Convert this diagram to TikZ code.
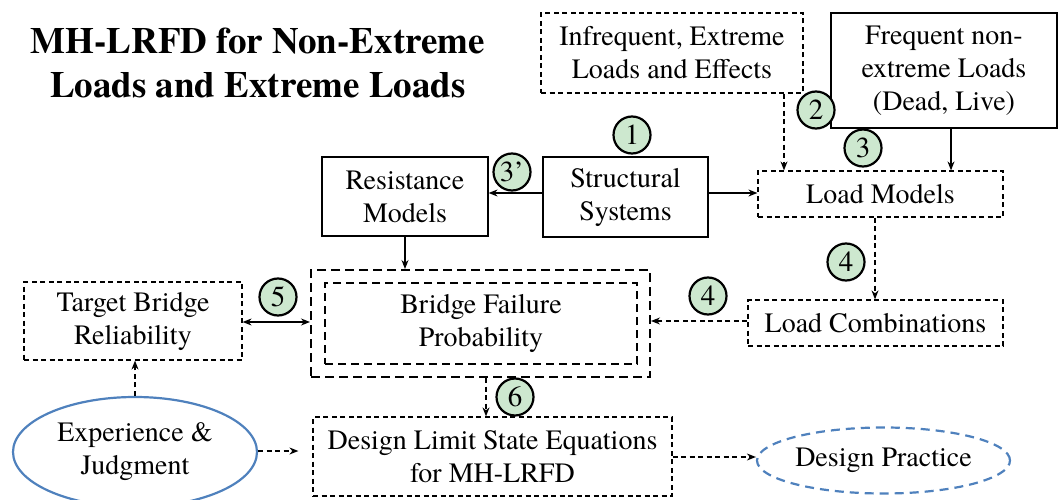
\documentclass[tikz,border=0pt]{standalone}
\usepackage{fontspec}
\setmainfont{texgyretermes}[Extension=.otf, UprightFont=*-regular, BoldFont=*-bold, ItalicFont=*-italic, BoldItalicFont=*-bolditalic]
\usetikzlibrary{arrows.meta,shapes.geometric}
\definecolor{numgreen}{HTML}{CDE8CF}
\definecolor{ellblue}{HTML}{4F81BD}
\tikzset{
  txt/.style={font=\fontsize{28}{33}\selectfont, align=center, inner sep=0pt},
  sbox/.style={txt, draw, line width=1.2pt},
  dbox/.style={txt, draw, line width=1.2pt, dash pattern=on 5pt off 3.5pt},
  obox/.style={draw, line width=2pt, dash pattern=on 9pt off 5pt, inner sep=0pt},
  num/.style={circle, draw, line width=2.2pt, fill=numgreen, minimum size=37pt, inner sep=0pt, font=\fontsize{29}{29}\selectfont},
  arr/.style={line width=1.2pt, -{Stealth[length=9pt,width=7pt]}},
  darr/.style={arr, dash pattern=on 5pt off 3.5pt},
}
\begin{document}
\begin{tikzpicture}[x=1pt,y=-1pt]
\useasboundingbox (0,0) rectangle (1058,500);
% title
\node[font=\bfseries\fontsize{37}{44}\selectfont, align=center, inner sep=0pt] (title) at (258,63) {MH-LRFD for Non-Extreme\\Loads and Extreme Loads};
% boxes
\node[dbox, minimum width=262pt, minimum height=80pt] (inf) at (672,53) {Infrequent, Extreme\\Loads and Effects};
\node[sbox, minimum width=226pt, minimum height=115pt] (freq) at (944,70.5) {Frequent non-\\extreme Loads\\(Dead, Live)};
\node[sbox, minimum width=166pt, minimum height=79pt] (res) at (405,196.5) {Resistance\\Models};
\node[sbox, minimum width=165pt, minimum height=80pt] (str) at (625.5,197) {Structural\\Systems};
\node[dbox, minimum width=245pt, minimum height=46pt] (lm) at (880.5,194) {Load Models};
\node[obox, minimum width=339pt, minimum height=107pt] (outer) at (480.5,323.5) {};
\node[dbox, line width=1.7pt, dash pattern=on 8pt off 5pt, minimum width=312pt, minimum height=81pt] (inner) at (481,323.5) {Bridge Failure\\Probability};
\node[dbox, minimum width=255pt, minimum height=46pt] (lc) at (875.5,323) {Load Combinations};
\node[dbox, minimum width=218pt, minimum height=78pt] (tgt) at (133,321) {Target Bridge\\Reliability};
\node[txt, ellipse, draw=ellblue, line width=2.2pt, minimum width=244pt, minimum height=110pt] (exp) at (135,452) {Experience \&\\Judgment};
\node[dbox, minimum width=359pt, minimum height=79pt] (dls) at (492.5,456.5) {Design Limit State Equations\\for MH-LRFD};
\node[txt, ellipse, draw=ellblue, line width=2.2pt, dash pattern=on 9pt off 6pt, minimum width=253pt, minimum height=66pt] (dp) at (883.5,460.5) {Design Practice};
% connectors
\draw[darr] (inf.south -| 784,0) -- (lm.north -| 784,0);
\draw[arr] (freq.south -| 951,0) -- (lm.north -| 951,0);
\draw[arr] (str.east |- 0,193) -- (lm.west |- 0,193);
\draw[arr] (str.west |- 0,193) -- (res.east |- 0,193);
\draw[arr] (res.south) -- (outer.north -| res.south);
\draw[darr] (lm.south -| 875,0) -- (lc.north -| 875,0);
\draw[darr] (lc.west |- 0,321) -- (outer.east |- 0,321);
\draw[line width=1.2pt, {Stealth[length=9pt,width=7pt]}-{Stealth[length=9pt,width=7pt]}] (tgt.east |- 0,322) -- (outer.west |- 0,322);
\draw[darr] (exp.north) -- (tgt.south -| exp.north);
\draw[darr, shorten >=14pt] (exp.east |- 0,451) -- (dls.west |- 0,451);
\draw[darr] (outer.south -| 486,0) -- (dls.north -| 486,0);
\draw[darr] (dls.east |- 0,457) -- (dp.west |- 0,457);
% numbers
\node[num] (n1) at (632,135) {1};
\node[num] (n2) at (816,110) {2};
\node[num] (n3) at (863,148) {3};
\node[num] (n3p) at (512,172) {3’};
\node[num] (n4a) at (846,262) {4};
\node[num] (n4b) at (708,296) {4};
\node[num] (n5) at (278,297) {5};
\node[num] (n6) at (515,397) {6};
\end{tikzpicture}
\end{document}
